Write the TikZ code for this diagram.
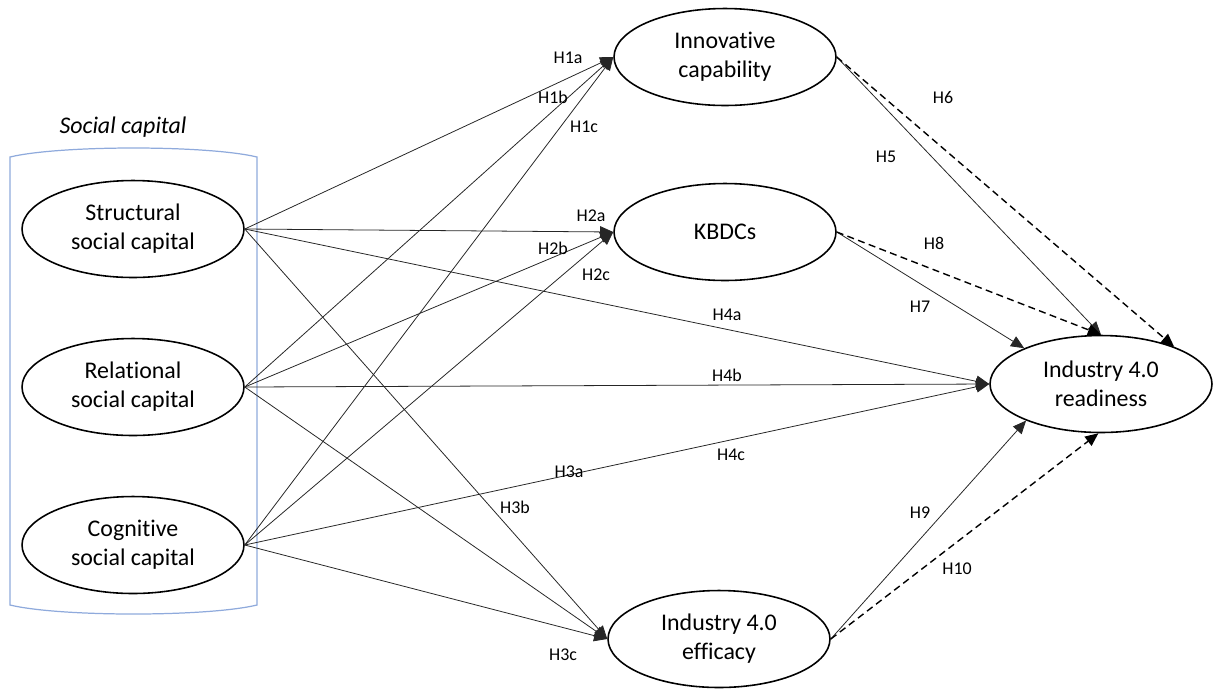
\documentclass[tikz,border=0pt]{standalone}
\usepackage{fontspec}
\setmainfont{Carlito}[Ligatures=NoCommon]
\usetikzlibrary{arrows.meta, shapes.geometric}
\definecolor{capblue}{RGB}{143,170,220}
\tikzset{
  construct/.style={draw, line width=0.9pt, ellipse, minimum width=4.44cm, minimum height=1.94cm, inner sep=0pt, align=center, font=\fontsize{13.6}{16.5}\selectfont},
  hyp/.style={font=\fontsize{10.2}{12}\selectfont, inner sep=0pt},
  direct/.style={draw=black!85, line width=0.45pt, -{Triangle[length=7.5pt, width=6.5pt]}},
  med/.style={draw=black, line width=0.8pt, dash pattern=on 4pt off 2.5pt, -{Triangle[length=7.5pt, width=6.5pt]}}
}
\begin{document}
\begin{tikzpicture}[x=0.02cm, y=-0.02cm]
            \useasboundingbox (0, 0) rectangle (1213, 691);
            % social capital frame
            \draw[capblue, line width=0.7pt] (10, 157) .. controls (60, 145) and (207, 145) .. (257, 157) -- (257, 605) .. controls (207, 617) and (60, 617) .. (10, 605) -- cycle;
            \node[font=\fontsize{13.6}{16.5}\selectfont\itshape] (capital) at (123, 127) {Social capital};
            \node[construct] (struct) at (133, 229) {Structural\\social capital};
            \node[construct] (relat) at (133, 387) {Relational\\social capital};
            \node[construct] (cogn) at (133, 545) {Cognitive\\social capital};
            \node[construct] (innov) at (725, 57) {Innovative\\capability};
            \node[construct] (kbdc) at (725, 232) {KBDCs};
            \node[construct] (effic) at (719, 639) {Industry 4.0\\efficacy};
            \node[construct] (ready) at (1101, 384) {Industry 4.0\\readiness};
            % direct paths
            \draw[direct] (struct.east) -- (innov.west);
            \draw[direct] (relat.east) -- (innov.west);
            \draw[direct] (cogn.east) -- (innov.west);
            \draw[direct] (struct.east) -- (kbdc.west);
            \draw[direct] (relat.east) -- (kbdc.west);
            \draw[direct] (cogn.east) -- (kbdc.west);
            \draw[direct] (struct.east) -- (effic.west);
            \draw[direct] (relat.east) -- (effic.west);
            \draw[direct] (cogn.east) -- (effic.west);
            \draw[direct] (struct.east) -- (ready.west);
            \draw[direct] (relat.east) -- (ready.west);
            \draw[direct] (cogn.east) -- (ready.west);
            \draw[direct] (innov.east) -- (ready.north);
            \draw[direct] (kbdc.east) -- (ready.155);
            \draw[direct] (effic.east) -- (ready.206);
            % mediation paths
            \draw[med] (innov.east) -- (ready.27);
            \draw[med] (kbdc.east) -- (ready.north);
            \draw[med] (effic.east) -- (ready.267);
            % hypothesis labels
            \node[hyp] (h1a) at (568, 58) {H1a};
            \node[hyp] (h1b) at (553, 97) {H1b};
            \node[hyp] (h1c) at (584, 127) {H1c};
            \node[hyp] (h2a) at (591, 216) {H2a};
            \node[hyp] (h2b) at (553, 248) {H2b};
            \node[hyp] (h2c) at (596, 275) {H2c};
            \node[hyp] (h3a) at (569, 472) {H3a};
            \node[hyp] (h3b) at (515, 507) {H3b};
            \node[hyp] (h3c) at (563, 655) {H3c};
            \node[hyp] (h4a) at (727, 315) {H4a};
            \node[hyp] (h4b) at (727, 375) {H4b};
            \node[hyp] (h4c) at (731, 455) {H4c};
            \node[hyp] (h5) at (886, 157) {H5};
            \node[hyp] (h6) at (943, 98) {H6};
            \node[hyp] (h7) at (920, 307) {H7};
            \node[hyp] (h8) at (934, 243) {H8};
            \node[hyp] (h9) at (920, 513) {H9};
            \node[hyp] (h10) at (957, 569) {H10};
        \end{tikzpicture}
\end{document}
